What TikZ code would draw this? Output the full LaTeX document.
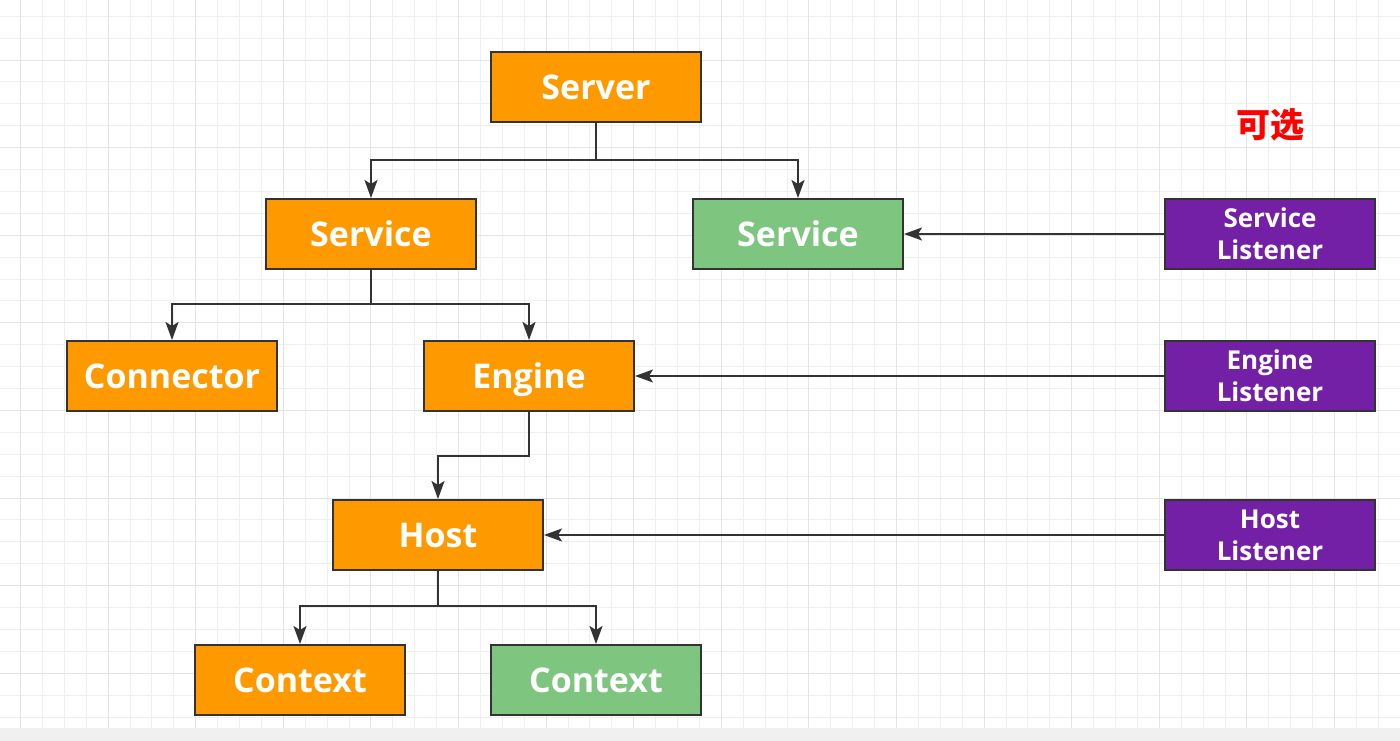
\documentclass[tikz,border=0pt]{standalone}
\usepackage{fontspec}
\setmainfont{Open Sans}
\newfontfamily\cjkfont{Noto Sans CJK SC}
\usetikzlibrary{arrows.meta}

\definecolor{boxorange}{HTML}{FF9900}
\definecolor{boxgreen}{HTML}{7EC67F}
\definecolor{boxpurple}{HTML}{7320A6}
\definecolor{edgegray}{HTML}{333333}
\definecolor{gridminor}{HTML}{EFEFEF}
\definecolor{gridmajor}{HTML}{E4E4E4}
\definecolor{bandgray}{HTML}{F0F0F0}

\begin{document}
\begin{tikzpicture}[
  x=1pt, y=-1pt,
  font=\bfseries\fontsize{34}{40}\selectfont,
  box/.style={draw=edgegray, line width=2pt, text=white, minimum width=210pt, minimum height=70pt, inner sep=0pt},
  oneline/.style={text height=25pt, text depth=0pt},
  orangebox/.style={box, oneline, fill=boxorange},
  greenbox/.style={box, oneline, fill=boxgreen},
  listenerbox/.style={box, fill=boxpurple, align=center, font=\bfseries\fontsize{26}{32}\selectfont},
  flow/.style={-{Stealth[length=18pt,width=13pt,inset=4pt]}, line width=2pt, draw=edgegray},
  minor/.style={draw=gridminor, line width=0.9pt},
  major/.style={draw=gridmajor, line width=0.9pt}]

\useasboundingbox (0,0) rectangle (1400,741);
\fill[white] (0,0) rectangle (1400,741);

% background grid
\foreach \i in {0,...,62} \draw[minor] ({20.5+21.9*\i},0) -- ({20.5+21.9*\i},728);
\foreach \j in {0,...,32} \draw[minor] (0,{16.2+21.9*\j}) -- (1400,{16.2+21.9*\j});
\foreach \i in {0,...,15} \draw[major] ({20.5+87.6*\i},0) -- ({20.5+87.6*\i},728);
\foreach \j in {0,...,7} \draw[major] (0,{60+87.6*\j}) -- (1400,{60+87.6*\j});
\fill[bandgray] (0,728) rectangle (1400,741);

% components
\node[orangebox] (server) at (596,87) {Server};
\node[orangebox] (service) at (371,234) {Service};
\node[greenbox] (svcopt) at (798,234) {Service};
\node[orangebox] (connector) at (172,376) {Connector};
\node[orangebox] (engine) at (529,376) {Engine};
\node[orangebox] (host) at (438,535) {Host};
\node[orangebox] (ctx) at (300,680) {Context};
\node[greenbox] (ctxopt) at (596,680) {Context};

% listeners
\node[text=red, font=\cjkfont\bfseries\fontsize{34}{36}\selectfont] (optnote) at (1270,125) {可选};
\node[listenerbox] (slisten) at (1270,234) {Service\\Listener};
\node[listenerbox] (elisten) at (1270,376) {Engine\\Listener};
\node[listenerbox] (hlisten) at (1270,535) {Host\\Listener};

\draw[flow] (server.south) -- ++(0,37) -| (service.north);
\draw[flow] (server.south) -- ++(0,37) -| (svcopt.north);
\draw[flow] (service.south) -- ++(0,34) -| (connector.north);
\draw[flow] (service.south) -- ++(0,34) -| (engine.north);
\draw[flow] (engine.south) -- ++(0,44) -| (host.north);
\draw[flow] (host.south) -- ++(0,35) -| (ctx.north);
\draw[flow] (host.south) -- ++(0,35) -| (ctxopt.north);

\draw[flow] (slisten.west) -- (svcopt.east);
\draw[flow] (elisten.west) -- (engine.east);
\draw[flow] (hlisten.west) -- (host.east);
\end{tikzpicture}
\end{document}
